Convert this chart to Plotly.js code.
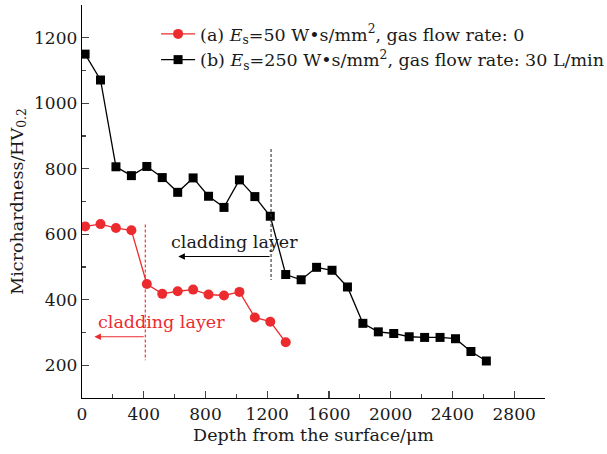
<!DOCTYPE html>
<html>
<head>
<meta charset="utf-8">
<script src="https://cdn.plot.ly/plotly-3.0.1.min.js"></script>
<style>html,body{margin:0;padding:0;background:#fff}#chart{width:607px;height:454px}</style>
</head>
<body>
<div id="chart"></div>
<script>
// Depth from the surface (µm)
const depthA = [20,120,220,320,420,520,620,720,820,920,1020,1120,1220,1320];
const hardA  = [624,631,619,612,448,418,426,431,416,413,424,346,333,270];
const depthB = [20,120,220,320,420,520,620,720,820,920,1020,1120,1220,1320,1420,1520,1620,1720,1820,1920,2020,2120,2220,2320,2420,2520,2620];
const hardB  = [1150,1071,806,779,807,773,728,772,716,682,766,715,655,477,461,499,490,439,328,302,297,287,285,285,281,242,213];
const nameA = "(a) <i>E</i><sub>s</sub>=50 W•s/mm<sup>2</sup>, gas flow rate: 0";
const nameB = "(b) <i>E</i><sub>s</sub>=250 W•s/mm<sup>2</sup>, gas flow rate: 30 L/min";
const xTicks = [0,400,800,1200,1600,2000,2400,2800];
const yTicks = [200,400,600,800,1000,1200];
// cladding layer boundaries: [depth, yTop, yBottom]
const boundA = [410, 630, 215];
const boundB = [1225, 860, 460];
// arrows: [fromX, toX, y], label: [x, y]
const arrowA = [410, 80, 287];
const arrowB = [1225, 624, 532];
const labelA = [516, 331];
const labelB = [990, 575];

const RED = "#ec2b2f";
const FONT = "DejaVu Serif";

const traces = [
  {x: depthA, y: hardA, name: nameA, type: "scatter", mode: "lines+markers",
   line: {color: RED, width: 1.3}, marker: {symbol: "circle", size: 10, color: RED}},
  {x: depthB, y: hardB, name: nameB, type: "scatter", mode: "lines+markers",
   line: {color: "#000", width: 1.3}, marker: {symbol: "square", size: 9, color: "#000"}}
];

const layout = {
  width: 607, height: 454,
  margin: {l: 82, r: 62, t: 5, b: 56, pad: 0, autoexpand: false},
  paper_bgcolor: "#fff", plot_bgcolor: "#fff",
  font: {family: FONT, size: 17, color: "#1a1a1a"},
  showlegend: true,
  legend: {x: 0.16, y: 0.972, xanchor: "left", yanchor: "top", bgcolor: "rgba(0,0,0,0)",
           font: {family: FONT, size: 17.5, color: "#1a1a1a"}, itemwidth: 34, tracegroupgap: 0},
  xaxis: {range: [0, 3000], tickvals: xTicks, ticks: "inside", ticklen: 7, tickwidth: 1.2,
          showline: true, linecolor: "#000", linewidth: 1.3, showgrid: false, zeroline: false,
          minor: {dtick: 200, tick0: 0, ticks: "inside", ticklen: 4, tickwidth: 1.2, showgrid: false},
          title: {text: "Depth from the surface/μm", font: {size: 17.5}, standoff: 6},
          automargin: false},
  yaxis: {range: [100, 1300], tickvals: yTicks, ticks: "inside", ticklen: 7, tickwidth: 1.2,
          showline: true, linecolor: "#000", linewidth: 1.3, showgrid: false, zeroline: false,
          minor: {dtick: 100, tick0: 100, ticks: "inside", ticklen: 4, tickwidth: 1.2, showgrid: false},
          title: {text: "Microhardness/HV<sub>0.2</sub>", font: {size: 17.5}, standoff: 6},
          automargin: false},
  shapes: [
    {type: "line", xref: "x", yref: "y", x0: boundA[0], x1: boundA[0], y0: boundA[1], y1: boundA[2],
     line: {color: RED, width: 1.1, dash: "3px,2px"}},
    {type: "line", xref: "x", yref: "y", x0: boundB[0], x1: boundB[0], y0: boundB[1], y1: boundB[2],
     line: {color: "#333", width: 1.1, dash: "3px,2px"}}
  ],
  annotations: [
    {x: arrowA[1], y: arrowA[2], ax: arrowA[0], ay: arrowA[2], xref: "x", yref: "y", axref: "x", ayref: "y",
     text: "", showarrow: true, arrowhead: 2, arrowsize: 1.2, arrowwidth: 1.1, arrowcolor: RED},
    {x: arrowB[1], y: arrowB[2], ax: arrowB[0], ay: arrowB[2], xref: "x", yref: "y", axref: "x", ayref: "y",
     text: "", showarrow: true, arrowhead: 2, arrowsize: 1.2, arrowwidth: 1.1, arrowcolor: "#000"},
    {x: labelA[0], y: labelA[1], xref: "x", yref: "y", text: "cladding layer", showarrow: false,
     font: {family: FONT, size: 17.5, color: RED}},
    {x: labelB[0], y: labelB[1], xref: "x", yref: "y", text: "cladding layer", showarrow: false,
     font: {family: FONT, size: 17.5, color: "#1a1a1a"}}
  ]
};

Plotly.newPlot("chart", traces, layout, {staticPlot: true, displayModeBar: false});
</script>
</body>
</html>
